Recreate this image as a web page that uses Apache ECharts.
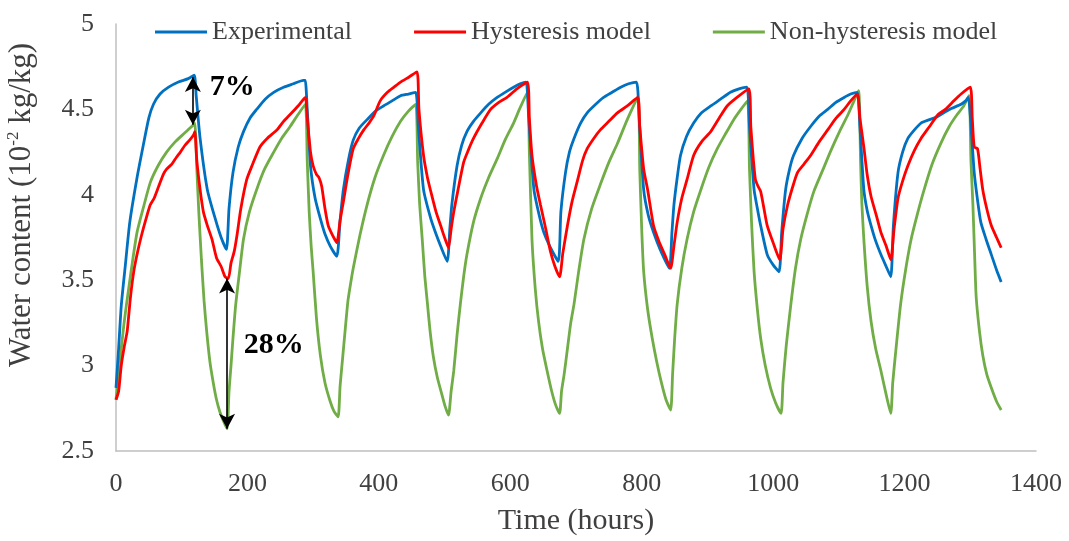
<!DOCTYPE html>
<html>
<head>
<meta charset="utf-8">
<script src="https://cdn.jsdelivr.net/npm/echarts@6/dist/echarts.min.js"></script>
<style>
html,body{margin:0;padding:0;background:#fff;}
#chart{width:1069px;height:541px;}
</style>
</head>
<body>
<div id="chart"></div>
<script>
// ---- data (time in hours, water content in 10^-2 kg/kg) ----
var seriesNames = ['Experimental', 'Hysteresis model', 'Non-hysteresis model'];
var xTicks = [0, 200, 400, 600, 800, 1000, 1200, 1400];
var yTicks = [2.5, 3, 3.5, 4, 4.5, 5];
var xTitle = 'Time (hours)';
var yTitle = 'Water content (10{sup|-2} kg/kg)';

var expT = [0,4,8,14,21,32,41,50,57,67,80,95,110,119,
  122,128,139,151,160,168,
  172,178,186,194,204,214,227,240,255,270,285,288,
  291,296,303,311,318,326,336,
  341,346,354,361,370,382,395,407,420,433,445,456,
  460,468,479,487,494,504,
  508,511,519,526,534,544,555,567,580,592,605,615,624,
  628,636,644,651,660,673,
  677,684,690,697,707,717,730,742,755,768,780,792,
  796,803,810,818,828,842,
  846,849,854,859,868,879,891,905,920,935,948,960,
  964,971,976,981,991,1000,1009,
  1013,1019,1025,1031,1044,1057,1070,1083,1095,1108,1118,1128,
  1132,1138,1143,1149,1156,1164,1172,1179,
  1183,1190,1197,1205,1215,1225,1238,1251,1268,1286,1293,1297,
  1302,1306,1311,1316,1324,1332,1340,1347];
var expV = [2.87,3.10,3.35,3.58,3.84,4.10,4.28,4.45,4.53,4.59,4.63,4.66,4.68,4.70,
  4.58,4.33,4.03,3.86,3.75,3.68,
  3.92,4.13,4.28,4.37,4.45,4.50,4.56,4.60,4.63,4.65,4.67,4.67,
  4.50,4.17,3.98,3.86,3.77,3.70,3.64,
  3.85,4.03,4.21,4.32,4.39,4.44,4.49,4.52,4.55,4.58,4.59,4.60,
  4.40,4.03,3.86,3.77,3.70,3.61,
  3.80,3.94,4.17,4.29,4.37,4.43,4.48,4.53,4.57,4.60,4.63,4.65,4.66,
  4.45,4.03,3.88,3.78,3.70,3.61,
  3.90,4.13,4.25,4.33,4.42,4.48,4.53,4.57,4.60,4.63,4.65,4.66,
  4.45,4.03,3.88,3.78,3.68,3.57,
  3.78,3.94,4.10,4.23,4.34,4.42,4.48,4.52,4.56,4.60,4.62,4.63,
  4.40,4.03,3.92,3.82,3.65,3.59,3.55,
  3.78,4.03,4.15,4.23,4.33,4.40,4.46,4.50,4.54,4.57,4.59,4.60,
  4.40,4.03,3.91,3.82,3.73,3.65,3.58,3.52,
  3.82,4.13,4.25,4.33,4.38,4.42,4.44,4.46,4.50,4.53,4.55,4.57,
  4.35,4.13,3.97,3.84,3.74,3.65,3.56,3.49];

var hysT = [0,4,8,13,17,22,27,32,38,45,52,58,65,72,77,85,92,98,105,112,118,120,
  123,128,133,139,146,153,160,166,171,
  175,180,184,190,199,208,219,230,245,255,265,277,288,
  291,296,300,305,309,313,318,323,330,336,
  341,346,353,361,369,377,385,392,402,413,423,433,446,458,
  461,468,474,479,487,494,500,506,
  510,514,520,529,536,544,557,570,582,595,610,626,
  629,633,640,646,654,661,668,675,
  680,687,694,702,710,717,727,737,750,763,778,794,
  797,803,809,818,826,835,844,
  849,854,861,869,879,891,905,918,930,945,963,
  966,970,973,977,981,986,991,1000,1010,
  1015,1022,1030,1037,1047,1057,1070,1083,1096,1108,1118,1128,
  1132,1138,1143,1149,1157,1164,1172,1179,
  1184,1190,1197,1205,1215,1225,1238,1251,1262,1275,1286,1300,
  1303,1306,1311,1315,1319,1325,1332,1340,1347];
var hysV = [2.80,2.85,3.00,3.12,3.20,3.40,3.55,3.65,3.75,3.85,3.94,3.98,4.05,4.12,4.15,4.18,4.22,4.25,4.29,4.32,4.35,4.37,
  4.20,4.03,3.90,3.82,3.74,3.63,3.58,3.52,3.51,
  3.60,3.67,3.76,3.92,4.09,4.18,4.28,4.33,4.38,4.43,4.47,4.52,4.57,
  4.45,4.25,4.17,4.12,4.10,4.05,3.92,3.82,3.76,3.72,
  3.85,3.96,4.12,4.27,4.33,4.38,4.42,4.46,4.55,4.60,4.63,4.66,4.69,4.72,
  4.50,4.23,4.10,4.02,3.90,3.82,3.75,3.69,
  3.80,3.90,4.02,4.19,4.26,4.33,4.42,4.50,4.54,4.57,4.62,4.66,
  4.45,4.23,4.05,3.94,3.80,3.67,3.58,3.52,
  3.66,3.82,3.96,4.08,4.20,4.27,4.33,4.38,4.43,4.48,4.52,4.57,
  4.40,4.15,4.03,3.82,3.73,3.65,3.57,
  3.70,3.84,3.98,4.09,4.23,4.31,4.37,4.45,4.52,4.57,4.62,
  4.40,4.20,4.09,4.05,4.02,3.92,3.82,3.72,3.62,
  3.80,3.94,4.05,4.13,4.18,4.23,4.31,4.38,4.45,4.50,4.55,4.59,
  4.45,4.28,4.12,3.99,3.88,3.78,3.70,3.62,
  3.80,3.98,4.08,4.17,4.26,4.33,4.40,4.47,4.50,4.55,4.59,4.63,
  4.45,4.28,4.27,4.15,4.03,3.92,3.82,3.75,3.69];

var nonT = [0,4,8,12,16,24,32,42,52,64,77,90,104,118,120,
  123,126,130,134,138,143,148,153,158,163,169,
  172,175,178,182,188,194,203,214,226,240,252,265,277,288,
  291,294,297,300,305,311,318,326,332,338,
  341,345,349,353,357,361,371,382,394,407,420,433,445,456,
  459,462,466,470,474,478,483,489,496,501,506,
  510,514,519,524,529,534,544,555,567,580,592,605,615,626,
  629,633,638,643,649,656,663,669,675,
  678,682,687,692,697,704,712,724,737,750,763,778,794,
  797,800,803,809,816,823,830,837,844,
  847,850,854,861,869,879,890,902,915,928,940,951,961,
  964,967,971,976,981,988,996,1004,1012,
  1015,1020,1027,1034,1042,1052,1062,1075,1088,1101,1114,1122,1130,
  1133,1135,1138,1143,1149,1156,1164,1172,1179,
  1182,1187,1194,1202,1210,1219,1229,1242,1255,1268,1280,1290,1298,
  1301,1304,1307,1309,1314,1319,1325,1332,1340,1347];
var nonV = [2.80,2.95,3.10,3.24,3.36,3.58,3.78,3.93,4.07,4.17,4.25,4.31,4.36,4.41,4.42,
  4.15,3.90,3.62,3.38,3.20,3.02,2.90,2.80,2.73,2.68,2.63,
  2.85,3.00,3.16,3.35,3.55,3.74,3.90,4.03,4.15,4.25,4.33,4.40,4.47,4.53,
  4.20,3.90,3.70,3.55,3.28,3.06,2.90,2.79,2.73,2.70,
  2.88,3.05,3.22,3.38,3.48,3.57,3.76,3.94,4.10,4.23,4.34,4.43,4.49,4.53,
  4.20,3.95,3.74,3.52,3.36,3.20,3.05,2.93,2.83,2.76,2.71,
  2.85,2.97,3.18,3.36,3.52,3.65,3.84,3.98,4.10,4.21,4.32,4.42,4.51,4.60,
  4.25,3.74,3.45,3.26,3.10,2.97,2.85,2.77,2.72,
  2.85,2.95,3.10,3.25,3.36,3.55,3.74,3.92,4.06,4.19,4.30,4.44,4.57,
  4.15,3.80,3.55,3.33,3.16,3.02,2.90,2.80,2.74,
  2.95,3.15,3.36,3.57,3.74,3.90,4.03,4.16,4.27,4.36,4.44,4.50,4.55,
  4.15,3.85,3.55,3.33,3.16,3.00,2.87,2.78,2.72,
  2.90,3.12,3.36,3.57,3.74,3.89,4.02,4.14,4.26,4.37,4.47,4.54,4.61,
  4.20,3.95,3.74,3.47,3.26,3.10,2.97,2.83,2.72,
  2.90,3.10,3.36,3.57,3.74,3.88,4.02,4.18,4.30,4.40,4.47,4.52,4.58,
  4.20,3.94,3.60,3.40,3.20,3.06,2.95,2.87,2.79,2.74];

// annotation values (hours, water content)
var arrow7 = [[117, 4.69], [117, 4.41]];
var arrow28 = [[169, 3.51], [169, 2.63]];
var label7 = [177, 4.63];
var label28 = [240, 3.12];

function pairs(t, v) { return t.map(function (x, i) { return [x, v[i]]; }); }

var serif = '"Liberation Serif", "Times New Roman", serif';
var textColor = '#404040';
var colors = ['#0070C0', '#FF0000', '#70AD47'];

var chart = echarts.init(document.getElementById('chart'), null, {renderer: 'canvas'});
var option = {
  animation: false,
  backgroundColor: '#ffffff',
  grid: {left: 116, right: 33, top: 24, bottom: 87, containLabel: false},
  legend: {
    left: 150, top: 14,
    icon: 'rect',
    itemWidth: 52, itemHeight: 3, itemGap: 62,
    textStyle: {fontFamily: serif, fontSize: 26, color: textColor, padding: [0, 0, 0, 0]},
    data: seriesNames
  },
  graphic: [{
    type: 'text', x: 22, y: 205, rotation: Math.PI / 2, silent: true,
    style: {
      text: yTitle, fontFamily: serif, fontSize: 31, fill: textColor,
      align: 'center', verticalAlign: 'middle', lineHeight: 33,
      rich: {sup: {fontFamily: serif, fontSize: 17, fill: textColor, verticalAlign: 'top', lineHeight: 18}}
    }
  }],
  xAxis: {
    type: 'value', min: 0, max: 1400, interval: 200,
    name: xTitle, nameLocation: 'middle', nameGap: 55,
    nameTextStyle: {fontFamily: serif, fontSize: 30, color: textColor},
    axisLine: {show: true, lineStyle: {color: '#BFBFBF', width: 1.5}},
    axisTick: {show: false},
    splitLine: {show: false},
    axisLabel: {fontFamily: serif, fontSize: 26, color: textColor, margin: 20,
      formatter: function (v) { return xTicks.indexOf(v) >= 0 ? String(v) : ''; }}
  },
  yAxis: {
    type: 'value', min: 2.5, max: 5, interval: 0.5,
    axisLine: {show: true, lineStyle: {color: '#BFBFBF', width: 1.5}},
    axisTick: {show: false},
    splitLine: {show: false},
    axisLabel: {fontFamily: serif, fontSize: 26, color: textColor, margin: 22,
      formatter: function (v) { return yTicks.indexOf(+v.toFixed(1)) >= 0 ? String(v) : ''; }}
  },
  series: [
    {name: seriesNames[0], type: 'line', data: pairs(expT, expV), symbol: 'none', smooth: 0.2,
      lineStyle: {color: colors[0], width: 2.8}, itemStyle: {color: colors[0]}, z: 3},
    {name: seriesNames[1], type: 'line', data: pairs(hysT, hysV), symbol: 'none', smooth: 0.2,
      lineStyle: {color: colors[1], width: 2.8}, itemStyle: {color: colors[1]}, z: 4},
    {name: seriesNames[2], type: 'line', data: pairs(nonT, nonV), symbol: 'none', smooth: 0.2,
      lineStyle: {color: colors[2], width: 2.8}, itemStyle: {color: colors[2]}, z: 2,
      markLine: {
        silent: true, symbol: ['arrow', 'arrow'], symbolSize: [12, 15],
        lineStyle: {color: '#000', width: 1.6, type: 'solid'},
        label: {show: false},
        data: [
          [{coord: arrow7[0]}, {coord: arrow7[1]}],
          [{coord: arrow28[0]}, {coord: arrow28[1]}]
        ]
      },
      markPoint: {
        silent: true, symbol: 'circle', symbolSize: 0,
        label: {show: true, position: 'inside', formatter: '{b}', fontFamily: serif,
          fontSize: 30, fontWeight: 'bold', color: '#000'},
        data: [
          {name: '7%', coord: label7},
          {name: '28%', coord: label28}
        ]
      }
    }
  ]
};
chart.setOption(option);
</script>
</body>
</html>
